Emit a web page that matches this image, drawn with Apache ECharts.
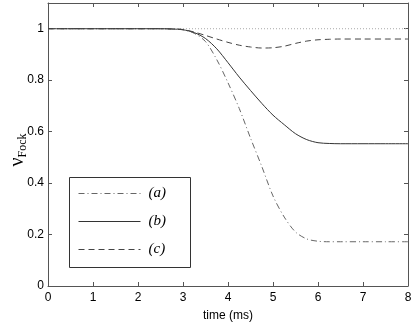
<!DOCTYPE html>
<html><head><meta charset="utf-8">
<script src="https://cdn.jsdelivr.net/npm/echarts@6/dist/echarts.min.js"></script>
<style>html,body{margin:0;padding:0;background:#fff}#c{width:415px;height:324px}</style>
</head><body><div id="c"></div>
<script>
var time = [0, 0.5, 1, 1.5, 2, 2.5, 2.75, 3.0, 3.25, 3.5, 3.75, 4.0, 4.25, 4.5, 4.75, 5.0, 5.25, 5.5, 5.75, 6.0, 6.25, 6.5, 7, 7.5, 8];
var seriesA = [1, 1, 1, 1, 1, 1, 0.999, 0.996, 0.982, 0.95, 0.88, 0.79, 0.69, 0.575, 0.465, 0.35, 0.268, 0.21, 0.183, 0.174, 0.172, 0.172, 0.172, 0.172, 0.172];
var seriesB = [1, 1, 1, 1, 1, 1, 0.999, 0.996, 0.985, 0.962, 0.922, 0.868, 0.812, 0.76, 0.71, 0.664, 0.627, 0.592, 0.569, 0.557, 0.554, 0.553, 0.553, 0.553, 0.553];
var seriesC = [1, 1, 1, 1, 1, 1, 0.999, 0.997, 0.987, 0.974, 0.96, 0.947, 0.936, 0.929, 0.925, 0.926, 0.932, 0.943, 0.952, 0.957, 0.959, 0.96, 0.96, 0.96, 0.96];
var refTime = [0, 8];
var refValue = [1, 1];
var names = ['(a)', '(b)', '(c)'];
var xTickLabels = ['0', '1', '2', '3', '4', '5', '6', '7', '8'];
var yTickLabels = ['0', '0.2', '0.4', '0.6', '0.8', '1'];

function pairs(xs, ys) { return xs.map(function (x, i) { return [x, ys[i]]; }); }

var axisColor = '#555';
var chart = echarts.init(document.getElementById('c'));
var baseX = {
  type: 'value', min: 0, max: 8, interval: 1,
  axisLine: { show: true, onZero: false, lineStyle: { color: axisColor, width: 1 } },
  axisTick: { show: true, inside: true, length: 4, lineStyle: { color: axisColor } },
  splitLine: { show: false }
};
var baseY = {
  type: 'value', min: 0, max: 1.1, interval: 0.2,
  axisLine: { show: true, onZero: false, lineStyle: { color: axisColor, width: 1 } },
  axisTick: { show: true, inside: true, length: 4, lineStyle: { color: axisColor } },
  splitLine: { show: false }
};
function line(name, data, color, type) {
  return {
    name: name, type: 'line', data: data, showSymbol: false, symbol: 'none',
    smooth: 0.3, animation: false,
    lineStyle: { color: color, width: 1, type: type }, itemStyle: { color: color }
  };
}
chart.setOption({
  animation: false,
  grid: { left: 48, right: 7, top: 3, bottom: 38, outerBoundsMode: 'none', containLabel: false },
  xAxis: [
    Object.assign({}, baseX, {
      position: 'bottom', name: 'time (ms)', nameLocation: 'middle', nameGap: 24,
      nameTextStyle: { fontFamily: 'Liberation Sans', fontSize: 12, color: '#000' },
      axisLabel: { margin: 6, fontFamily: 'Liberation Sans', fontSize: 12, color: '#000',
        formatter: function (v) { var i = xTickLabels.indexOf(String(v)); return i >= 0 ? xTickLabels[i] : ''; } }
    }),
    Object.assign({}, baseX, { position: 'top', axisLabel: { show: false } })
  ],
  yAxis: [
    Object.assign({}, baseY, {
      position: 'left',
      axisLabel: { margin: 4, fontFamily: 'Liberation Sans', fontSize: 12, color: '#000', showMaxLabel: false,
        formatter: function (v) { var s = String(Math.round(v * 10) / 10); return yTickLabels.indexOf(s) >= 0 ? s : ''; } }
    }),
    Object.assign({}, baseY, { position: 'right', axisLabel: { show: false } })
  ],
  legend: {
    data: names, orient: 'vertical', left: 73, top: 181,
    itemWidth: 62, itemHeight: 14, itemGap: 13,
    itemStyle: { opacity: 0 },
    lineStyle: { width: 1 },
    textStyle: { fontFamily: 'Liberation Serif', fontStyle: 'italic', fontSize: 15, color: '#000', padding: [0, 0, 0, 3] }
  },
  graphic: [{
    type: 'rect', left: 69, top: 177, z: 0,
    shape: { width: 121, height: 90 },
    style: { fill: '#fff', stroke: '#333', lineWidth: 1 }
  }, {
    type: 'group', x: 18, y: 150, rotation: Math.PI / 2,
    children: [{
      type: 'text', x: 0, y: 0,
      style: {
        text: '{nu|ν}{sub|Fock}', align: 'center', verticalAlign: 'middle',
        rich: {
          nu: { fontFamily: 'Liberation Serif', fontSize: 20, fill: '#000', color: '#000' },
          sub: { fontFamily: 'Liberation Serif', fontSize: 12, fill: '#000', color: '#000', padding: [10, 0, 0, 0] }
        }
      }
    }]
  }],
  series: [
    { name: 'ref', type: 'line', data: pairs(refTime, refValue), showSymbol: false, symbol: 'none',
      lineStyle: { color: '#aaa', width: 1, type: [1, 2] }, animation: false },
    line(names[0], pairs(time, seriesA), '#666', [6, 3, 1, 3]),
    line(names[1], pairs(time, seriesB), '#333', 'solid'),
    line(names[2], pairs(time, seriesC), '#444', [6, 4])
  ]
});
</script>
</body></html>
